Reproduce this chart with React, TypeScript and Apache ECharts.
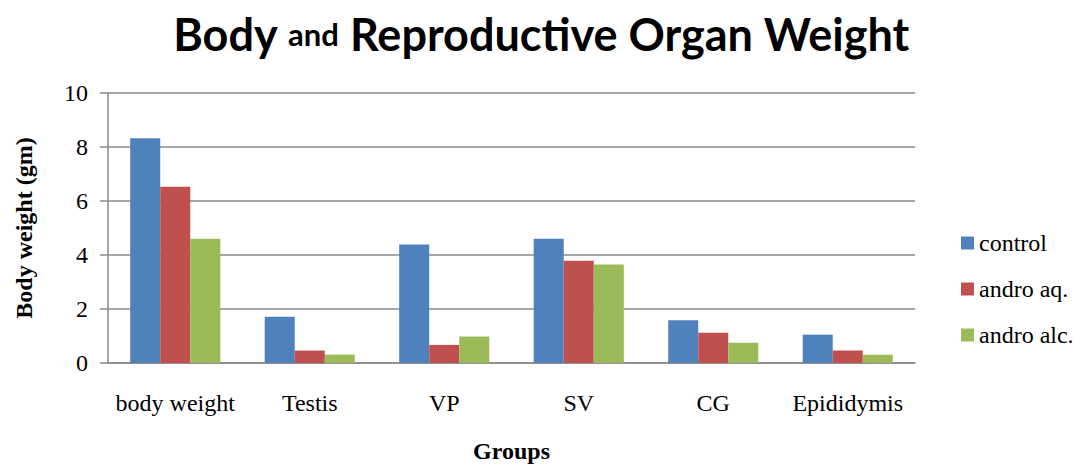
import React, { useEffect, useRef } from "react";
import * as echarts from "echarts";

const categories = ["body weight", "Testis", "VP", "SV", "CG", "Epididymis"];
const seriesNames = ["control", "andro aq.", "andro alc."];
const controlValues = [8.32, 1.71, 4.39, 4.6, 1.58, 1.05];
const aqValues = [6.53, 0.46, 0.67, 3.79, 1.12, 0.46];
const alcValues = [4.6, 0.31, 0.98, 3.65, 0.75, 0.31];
const colors = ["#4F81BD", "#C0504D", "#9BBB59"];
const yTicks = { min: 0, max: 10, interval: 2 };

const serif = "'Liberation Serif', 'Times New Roman', serif";

export default function App() {
  const ref = useRef<HTMLDivElement>(null);
  useEffect(() => {
    if (!ref.current) return;
    const chart = echarts.init(ref.current, undefined, { renderer: "svg" });
    const values = [controlValues, aqValues, alcValues];
    chart.setOption({
      animation: false,
      backgroundColor: "#ffffff",
      title: {
        text: "{a|Body }{b|and}{a| Reproductive Organ Weight}",
        left: "center",
        top: 6,
        textStyle: {
          rich: {
            a: { fontFamily: "Lato", fontWeight: "bold", fontSize: 45, color: "#000" },
            b: { fontFamily: "Lato", fontWeight: "bold", fontSize: 31, color: "#000" },
          },
        },
      },
      legend: {
        orient: "vertical",
        left: 956,
        top: 226,
        itemWidth: 13,
        itemHeight: 13,
        itemGap: 22,
        itemStyle: { borderWidth: 0 },
        icon: "rect",
        textStyle: { fontFamily: serif, fontSize: 24, color: "#000", lineHeight: 24 },
        data: seriesNames,
      },
      grid: { left: 108, right: 167, top: 93, bottom: 105 },
      xAxis: {
        type: "category",
        data: categories,
        name: "Groups",
        nameLocation: "middle",
        nameGap: 76,
        nameTextStyle: { fontFamily: serif, fontWeight: "bold", fontSize: 24, color: "#000" },
        axisLine: { lineStyle: { color: "#8a8a8a", width: 1.5 } },
        axisTick: { show: false },
        axisLabel: { fontFamily: serif, fontSize: 24, color: "#000", margin: 28, interval: 0 },
      },
      yAxis: {
        type: "value",
        min: yTicks.min,
        max: yTicks.max,
        interval: yTicks.interval,
        name: "Body weight (gm)",
        nameLocation: "middle",
        nameGap: 72,
        nameRotate: 90,
        nameTextStyle: { fontFamily: serif, fontWeight: "bold", fontSize: 24, color: "#000" },
        axisLine: { show: true, lineStyle: { color: "#8a8a8a", width: 1.5 } },
        axisTick: { show: true, length: 8, lineStyle: { color: "#8a8a8a", width: 1.5 } },
        axisLabel: { fontFamily: serif, fontSize: 24, color: "#000", margin: 20 },
        splitLine: { lineStyle: { color: "#8a8a8a", width: 1.5 } },
      },
      series: seriesNames.map((name, i) => ({
        name,
        type: "bar",
        data: values[i],
        barGap: "0%",
        barCategoryGap: "33%",
        itemStyle: { color: colors[i] },
      })),
    });
    return () => chart.dispose();
  }, []);
  return (
    <div
      ref={ref}
      style={{ position: "absolute", left: 0, top: 0, width: 1082, height: 468 }}
    />
  );
}
